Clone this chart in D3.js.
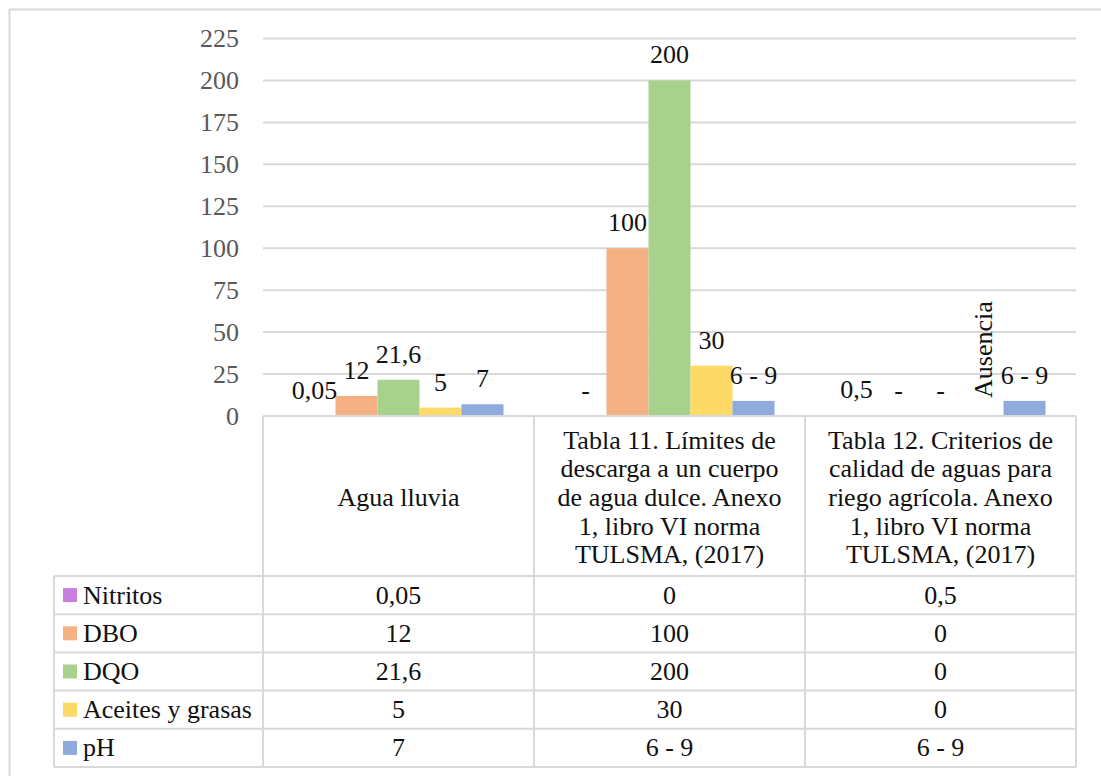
<!DOCTYPE html>
<html>
<head>
<meta charset="utf-8">
<script src="https://cdn.jsdelivr.net/npm/d3@7"></script>
<style>
  html, body { margin: 0; padding: 0; background: #fff; }
  svg { display: block; }
  svg text { font-family: "Liberation Serif", "Times New Roman", Times, serif; }
</style>
</head>
<body>
<svg id="chart" width="1101" height="776"></svg>
<script>
// Categories (columns of the data table), header lines wrapped as in the table
const categories = ["Agua lluvia", "Tabla 11", "Tabla 12"];
const categoryLines = [
  ["Agua lluvia"],
  ["Tabla 11. Límites de", "descarga a un cuerpo", "de agua dulce. Anexo", "1, libro VI norma", "TULSMA, (2017)"],
  ["Tabla 12. Criterios de", "calidad de aguas para", "riego agrícola. Anexo", "1, libro VI norma", "TULSMA, (2017)"]
];

// Series
const seriesNames = ["Nitritos", "DBO", "DQO", "Aceites y grasas", "pH"];
const seriesColors = ["#c97fe0", "#f4b183", "#a9d18e", "#ffd966", "#8faadc"];

// Values per series (one per category)
const nitritos = [0.05, 0, 0.5];
const dbo = [12, 100, 0];
const dqo = [21.6, 200, 0];
const aceites = [5, 30, 0];
const ph = [7, 9, 9];

// Labels drawn above the bars
const nitritosLabels = ["0,05", "-", "0,5"];
const dboLabels = ["12", "100", "-"];
const dqoLabels = ["21,6", "200", "-"];
const aceitesLabels = ["5", "30", "Ausencia"];
const phLabels = ["7", "6 - 9", "6 - 9"];

// Text shown in the data table
const nitritosTable = ["0,05", "0", "0,5"];
const dboTable = ["12", "100", "0"];
const dqoTable = ["21,6", "200", "0"];
const aceitesTable = ["5", "30", "0"];
const phTable = ["7", "6 - 9", "6 - 9"];

// Y axis ticks
const yTicks = [0, 25, 50, 75, 100, 125, 150, 175, 200, 225];

const seriesValues = [nitritos, dbo, dqo, aceites, ph];
const seriesLabels = [nitritosLabels, dboLabels, dqoLabels, aceitesLabels, phLabels];
const seriesTable = [nitritosTable, dboTable, dqoTable, aceitesTable, phTable];

const series = seriesNames.map((name, i) => ({
  name, color: seriesColors[i], values: seriesValues[i],
  labels: seriesLabels[i], table: seriesTable[i]
}));

const svg = d3.select("#chart");
const FONT = 26;
const SERIF = "Liberation Serif, Times New Roman, Times, serif";
const GRID = "#d9d9d9";
const TEXT = "#111";

// Layout
const plotLeft = 263, plotRight = 1076, plotTop = 38.5, plotBottom = 416;
const headerBottom = 576, tableBottom = 767, legendLeft = 54;
const rowH = (tableBottom - headerBottom) / series.length;

// Chart frame
svg.append("rect")
  .attr("x", 9.5).attr("y", 9.5).attr("width", 1100).attr("height", 800)
  .attr("fill", "none").attr("stroke", GRID).attr("stroke-width", 2);

const x = d3.scaleBand().domain(categories).range([plotLeft, plotRight]).padding(0);
const bw = x.bandwidth();
const margin = bw * 0.1125;
const xs = d3.scaleBand().domain(seriesNames).range([margin, bw - margin]).padding(0);
const y = d3.scaleLinear().domain([0, 225]).range([plotBottom, plotTop]);

// Gridlines
svg.append("g").selectAll("line").data(yTicks.filter(d => d > 0)).join("line")
  .attr("x1", plotLeft).attr("x2", plotRight)
  .attr("y1", d => y(d)).attr("y2", d => y(d))
  .attr("stroke", GRID).attr("stroke-width", 2);

// Y axis labels
const yAxis = svg.append("g").attr("transform", `translate(${plotLeft - 24},0)`)
  .call(d3.axisLeft(y).tickValues(yTicks).tickSize(0).tickPadding(0).tickFormat(d3.format("d")))
  .attr("font-family", SERIF);
yAxis.select(".domain").remove();
yAxis.selectAll("text")
  .attr("font-size", FONT).attr("fill", "#595959");

// Bars
const groups = svg.append("g").selectAll("g").data(series).join("g")
  .attr("fill", d => d.color);
groups.selectAll("rect")
  .data(s => categories.map((c, j) => ({ s, c, v: s.values[j] })))
  .join("rect")
  .attr("x", d => x(d.c) + xs(d.s.name))
  .attr("width", xs.bandwidth())
  .attr("y", d => y(d.v))
  .attr("height", d => y(0) - y(d.v));

// Bar value labels
const labelData = [];
series.forEach(s => categories.forEach((c, j) => {
  labelData.push({ s, c, v: s.values[j], text: s.labels[j] });
}));
svg.append("g").selectAll("text").data(labelData).join("text")
  .attr("font-size", FONT).attr("fill", TEXT)
  .each(function (d) {
    const cx = x(d.c) + xs(d.s.name) + xs.bandwidth() / 2;
    const sel = d3.select(this).text(d.text);
    if (d.text === "Ausencia") {
      sel.attr("text-anchor", "start")
        .attr("transform", `translate(${cx + 9},${y(d.v) - 18}) rotate(-90)`);
    } else {
      sel.attr("text-anchor", "middle").attr("x", cx).attr("y", y(d.v) - 17);
    }
  });

// Data table lines
const tbl = svg.append("g").attr("stroke", GRID).attr("stroke-width", 2);
tbl.append("line").attr("x1", plotLeft).attr("x2", plotRight).attr("y1", plotBottom).attr("y2", plotBottom);
d3.range(series.length + 1).forEach(i => {
  const yy = headerBottom + i * rowH;
  tbl.append("line").attr("x1", legendLeft).attr("x2", plotRight).attr("y1", yy).attr("y2", yy);
});
tbl.append("line").attr("x1", legendLeft).attr("x2", legendLeft).attr("y1", headerBottom).attr("y2", tableBottom);
categories.forEach(c => {
  tbl.append("line").attr("x1", x(c)).attr("x2", x(c)).attr("y1", plotBottom).attr("y2", tableBottom);
});
tbl.append("line").attr("x1", plotRight).attr("x2", plotRight).attr("y1", plotBottom).attr("y2", tableBottom);

// Category headers
const lineH = 28.7;
const headerMid = (plotBottom + headerBottom) / 2 + 1.5;
categories.forEach((c, i) => {
  const lines = categoryLines[i];
  const t = svg.append("text").attr("font-size", FONT).attr("fill", TEXT).attr("text-anchor", "middle");
  lines.forEach((ln, k) => {
    t.append("tspan")
      .attr("x", x(c) + bw / 2)
      .attr("y", headerMid + (k - (lines.length - 1) / 2) * lineH + FONT * 0.33)
      .text(ln);
  });
});

// Table rows: legend key, series name, values
series.forEach((s, i) => {
  const cy = headerBottom + i * rowH + rowH / 2;
  svg.append("rect").attr("x", 63).attr("y", cy - 7).attr("width", 14).attr("height", 14).attr("fill", s.color);
  svg.append("text").attr("x", 83).attr("y", cy + FONT * 0.33)
    .attr("font-size", FONT).attr("fill", TEXT).text(s.name);
  categories.forEach((c, j) => {
    svg.append("text").attr("x", x(c) + bw / 2).attr("y", cy + FONT * 0.33)
      .attr("font-size", FONT).attr("fill", TEXT).attr("text-anchor", "middle")
      .text(s.table[j]);
  });
});
</script>
</body>
</html>
